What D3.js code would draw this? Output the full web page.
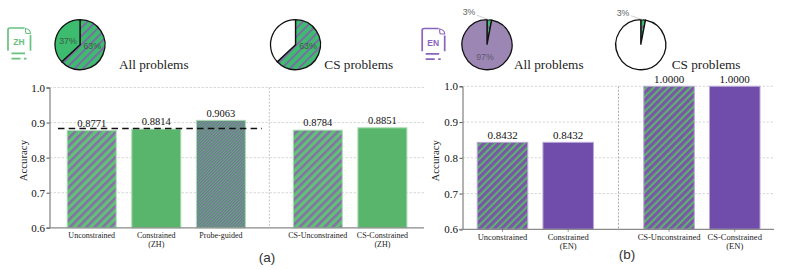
<!DOCTYPE html>
<html><head><meta charset="utf-8">
<style>html,body{margin:0;padding:0;background:#fff}svg{display:block}</style>
<script src="https://cdn.jsdelivr.net/npm/d3@7"></script></head><body>
<svg id="c" width="793" height="270"></svg>
<script>
const catsA=["Unconstrained","Constrained\n(ZH)","Probe-guided","CS-Unconstrained","CS-Constrained\n(ZH)"];
const valsA=[0.8771,0.8814,0.9063,0.8784,0.8851];
const fillsA=["hA","solidG","hP","hA","solidG"];
const catsB=["Unconstrained","Constrained\n(EN)","CS-Unconstrained","CS-Constrained\n(EN)"];
const valsB=[0.8432,0.8432,1.0,1.0];
const fillsB=["hB","solidV","hB","solidV"];
const yTicks=[0.6,0.7,0.8,0.9,1.0];
const refLineA=0.883;
const pieZH=[63,37], pieEN=[3,97];

const svg=d3.select("#c"), defs=svg.append("defs");
const SERIF="'Liberation Serif',serif", SANS="'Liberation Sans',sans-serif";
function hatch(id,bg,fg,size,w){
  const p=defs.append("pattern").attr("id",id).attr("patternUnits","userSpaceOnUse")
    .attr("width",size).attr("height",size).attr("patternTransform","rotate(45)");
  p.append("rect").attr("width",size).attr("height",size).attr("fill",bg);
  p.append("rect").attr("width",w).attr("height",size).attr("fill",fg);
}
hatch("hA","#5fc274","#8a6cab",5.8,2.5);
hatch("hB","#5cb46c","#7a55a8",5.2,3.1);
hatch("hP","#5cab78","#7f6ca0",2.2,1.1);
hatch("hPie","#3dbb6e","#7d6aa5",6,1.9);
const solid={solidG:"#5ab56c",solidV:"#704daa"};
const edge={hA:"#a9dcb2",solidG:"#a9dcb2",hP:"#a9dcb2",hB:"#b9a5d6",solidV:"#b9a5d6"};
const paint=k=>solid[k]||`url(#${k})`;

function panel(o){
  const y=d3.scaleLinear().domain([0.6,1.0]).range([o.y0,o.y1]);
  const x=d3.scaleLinear().domain([0,1]).range([o.c0,o.c0+o.step]);
  const slot=i=>i+(i>=o.brk?o.gap:0);
  const g=svg.append("g");
  g.append("g").selectAll("line").data(yTicks.slice(1)).join("line")
    .attr("x1",o.xl).attr("x2",o.xr).attr("y1",d=>y(d)).attr("y2",d=>y(d))
    .attr("stroke","#cfcfcf").attr("stroke-width",.8).attr("stroke-dasharray","2.5 1.5");
  g.append("line").attr("x1",x(o.brk-0.25)+(o.sepDx||0)).attr("x2",x(o.brk-0.25)+(o.sepDx||0)).attr("y1",y(1.0)).attr("y2",y(0.6))
    .attr("stroke",o.sepC).attr("stroke-width",o.sepW).attr("stroke-dasharray","2 1.5");
  g.selectAll("rect.b").data(o.vals).join("rect").attr("class","b")
    .attr("x",(d,i)=>x(slot(i))-o.bw/2).attr("width",o.bw)
    .attr("y",d=>y(d)).attr("height",d=>y(0.6)-y(d))
    .attr("fill",(d,i)=>paint(o.fills[i])).attr("stroke",(d,i)=>edge[o.fills[i]]).attr("stroke-width",1);
  g.selectAll("text.v").data(o.vals).join("text").attr("class","v")
    .attr("x",(d,i)=>x(slot(i))).attr("y",d=>y(d)-3.8).attr("text-anchor","middle")
    .attr("font-family",SERIF).attr("font-size",o.vf).attr("fill","#111")
    .text(d=>d.toFixed(4));
  const ax=d3.axisLeft(y).tickValues(yTicks).tickFormat(d3.format(".1f")).tickSize(3);
  const ag=g.append("g").attr("transform",`translate(${o.xl},0)`).call(ax);
  ag.selectAll("text").attr("font-family",SERIF).attr("font-size",11).attr("fill","#111").attr("dx",1.5);
  ag.selectAll(".tick line").attr("stroke","#555");
  ag.select(".domain").attr("stroke","#666").attr("stroke-width",1);
  g.append("line").attr("x1",o.xl-3).attr("x2",o.xr).attr("y1",y(0.6)).attr("y2",y(0.6)).attr("stroke","#8a8a8a").attr("stroke-width",1.3);
  g.append("text").attr("transform",`translate(${o.xl-o.yl},${(y(0.6)+y(1))/2+3}) rotate(-90)`)
    .attr("text-anchor","middle").attr("font-family",SERIF).attr("font-size",10.8).attr("fill","#222").text("Accuracy");
  o.cats.forEach((c,i)=>{
    if(o.xt) g.append("line").attr("x1",x(slot(i))).attr("x2",x(slot(i))).attr("y1",y(0.6)).attr("y2",y(0.6)+2.5).attr("stroke","#666").attr("stroke-width",.7);
    const t=g.append("text").attr("font-family",SERIF).attr("font-size",o.cf).attr("fill","#222").attr("text-anchor","middle");
    c.split("\n").forEach((s,j)=>t.append("tspan").attr("x",x(slot(i))).attr("y",y(0.6)+o.cy+j*o.cl).text(s));
  });
  return {x,y};
}
const A=panel({cats:catsA,vals:valsA,fills:fillsA,y0:227.8,y1:87.5,c0:91.7,step:64.6,brk:3,gap:.5,bw:49,xl:49.5,xr:424,sepC:"#c4c4c4",sepW:1,vf:10.5,cf:8,cy:10.6,cl:8.6,yl:22.8});
svg.append("line").attr("x1",58).attr("x2",262).attr("y1",A.y(refLineA)).attr("y2",A.y(refLineA))
  .attr("stroke","#111").attr("stroke-width",1.6).attr("stroke-dasharray","6.5 4.2");
panel({cats:catsB,vals:valsB,fills:fillsB,y0:229.3,y1:86.3,c0:502.5,step:65.7,brk:2,gap:.535,bw:50.5,xl:462.5,xr:774,sepC:"#888",sepW:.7,sepDx:1,vf:11,cf:8.5,cy:11,cl:9,yl:23.8,xt:true});

function pie(cx,cy,r,vals,fills,labels){
  const arc=d3.arc().innerRadius(0).outerRadius(r);
  const arcs=d3.pie().sort(null)(vals);
  const g=svg.append("g").attr("transform",`translate(${cx},${cy})`);
  g.selectAll("path").data(arcs).join("path").attr("d",arc)
    .attr("fill",(d,i)=>fills[i]).attr("stroke","#111").attr("stroke-width",1.3).attr("stroke-linejoin","miter");
  labels.forEach(l=>{
    const a=arcs[l.i], m=(a.startAngle+a.endAngle)/2;
    if(l.lead){
      g.append("line").attr("x1",Math.sin(m)*r).attr("y1",-Math.cos(m)*r).attr("x2",l.dx+8).attr("y2",l.dy+3).attr("stroke","#bbb").attr("stroke-width",.7);
    }
    g.append("text").attr("x",l.dx).attr("y",l.dy).attr("text-anchor","middle").attr("dominant-baseline","central")
      .attr("font-family",SANS).attr("font-size",8.8).attr("fill",l.c||"#3f5a4a").text(vals[l.i]+"%");
  });
}
const H="url(#hPie)";
pie(80,44.7,25,pieZH,[H,"#3dbb6e"],[{i:0,dx:12.2,dy:1.5},{i:1,dx:-12,dy:-4}]);
pie(295.5,44.7,25,pieZH,[H,"#fff"],[{i:0,dx:12.5,dy:1.5}]);
pie(487,44.7,25,pieEN,[H,"#9c86b4"],[{i:1,dx:-2,dy:12,c:"#5f5a6e"},{i:0,dx:-18,dy:-32.4,lead:true,c:"#666"}]);
pie(640.8,44.7,25,pieEN,[H,"#fff"],[{i:0,dx:-17.8,dy:-32,lead:true,c:"#666"}]);

function title(x,y,t){svg.append("text").attr("x",x).attr("y",y).attr("font-family",SERIF).attr("font-size",13.25).attr("fill","#222").text(t);}
title(119,68.5,"All problems");title(324.3,68.5,"CS problems");title(514,68.5,"All problems");title(671.7,68.5,"CS problems");

function cap(x,y,t){svg.append("text").attr("x",x).attr("y",y).attr("text-anchor","middle").attr("font-family",SANS).attr("font-size",13.5).attr("fill","#333").text(t);}
cap(267,261.7,"(a)");cap(627,259,"(b)");

function icon(x,y,c,t){
  const g=svg.append("g").attr("transform",`translate(${x},${y})`).attr("fill","none").attr("stroke",c).attr("stroke-width",1.7);
  g.append("path").attr("d","M17 0H2.5Q0.5 0 0.5 2V22.7");
  g.append("path").attr("d","M23 7V22.7");
  g.append("path").attr("d","M18 0.5Q23 1.5 23 5.5H19.5Q18 5.5 18 3.5Z").attr("stroke-width",1.1);
  g.append("path").attr("d","M4 25.3H17.5M4 30.7H13M16.5 30.7H19");
  g.append("text").attr("x",11.5).attr("y",17).attr("text-anchor","middle").attr("stroke","none").attr("fill",c)
    .attr("font-family",SANS).attr("font-weight","bold").attr("font-size",8.5).text(t);
}
icon(7.5,28,"#66c27e","ZH");
icon(421.7,28.5,"#8a63bd","EN");
</script></body></html>
